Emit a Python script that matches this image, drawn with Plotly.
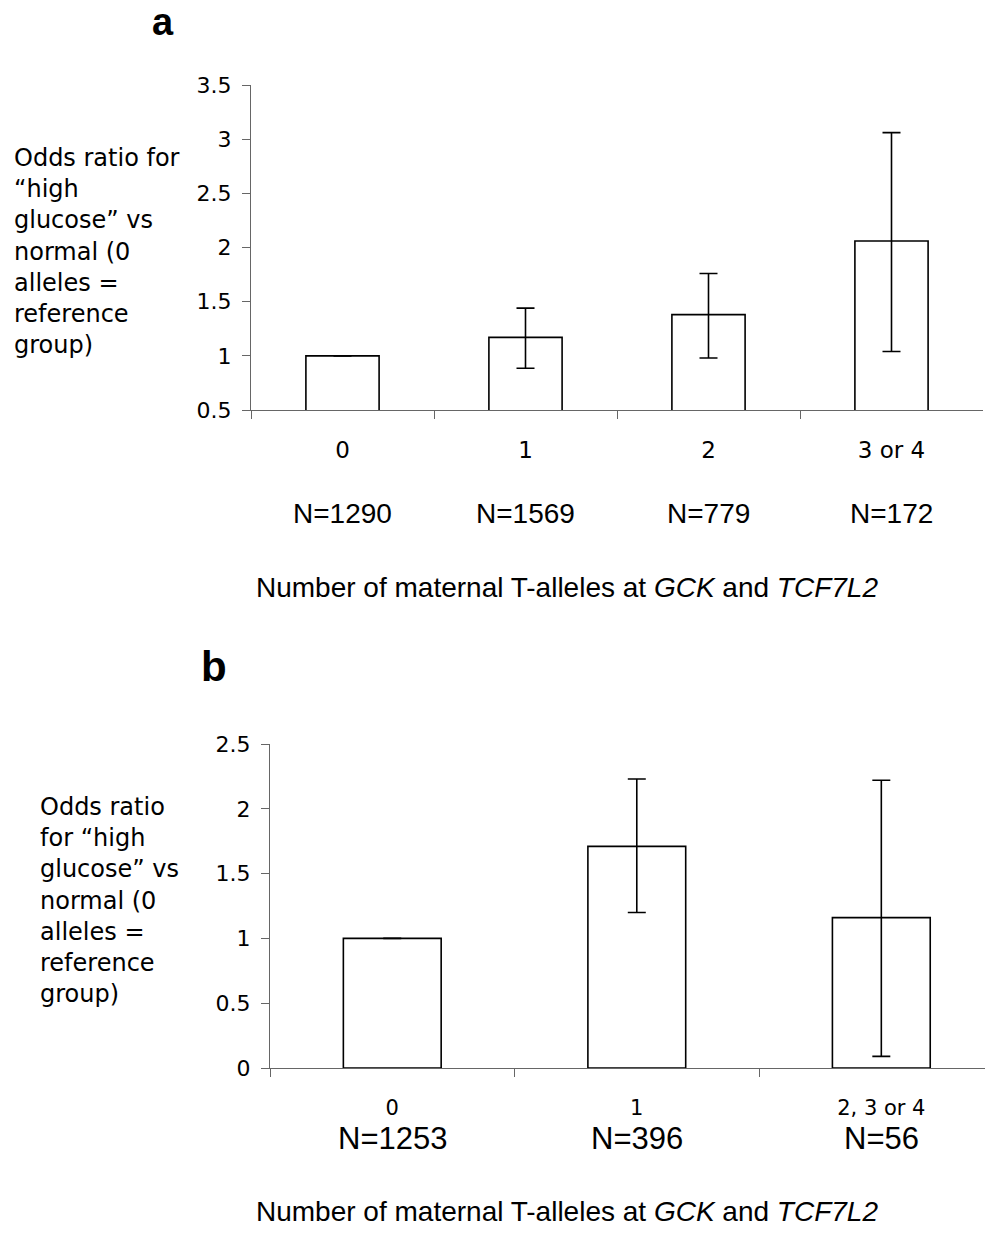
import plotly.graph_objects as go

W, H = 985, 1249

# Panel a data
cats_a = ["0", "1", "2", "3 or 4"]
or_a = [1.0, 1.17, 1.38, 2.06]
lo_a = [1.0, 0.885, 0.98, 1.04]
hi_a = [1.0, 1.44, 1.76, 3.06]
n_a = ["N=1290", "N=1569", "N=779", "N=172"]

# Panel b data
cats_b = ["0", "1", "2, 3 or 4"]
or_b = [1.0, 1.71, 1.16]
lo_b = [1.0, 1.20, 0.09]
hi_b = [1.0, 2.23, 2.22]
n_b = ["N=1253", "N=396", "N=56"]

ytitle_a = "Odds ratio for<br>“high<br>glucose” vs<br>normal (0<br>alleles =<br>reference<br>group)"
ytitle_b = "Odds ratio<br>for “high<br>glucose” vs<br>normal (0<br>alleles =<br>reference<br>group)"
xtitle = "Number of maternal T-alleles at <i>GCK</i> and <i>TCF7L2</i>"

TICKFONT = "DejaVu Sans"
TEXTFONT = "Liberation Sans, Arial, sans-serif"
AXC = "#666666"


def px(x):
    return x / W


def py(y):
    return 1 - y / H


def bar(cats, vals, lo, hi, xa, ya):
    return go.Bar(
        x=cats, y=vals, xaxis=xa, yaxis=ya, width=0.4,
        marker=dict(color="white", line=dict(color="black", width=1.6)),
        error_y=dict(type="data", symmetric=False,
                     array=[h - v for h, v in zip(hi, vals)],
                     arrayminus=[v - l for v, l in zip(vals, lo)],
                     color="black", thickness=1.6, width=9),
        showlegend=False, hoverinfo="skip",
    )


fig = go.Figure()
fig.add_trace(bar(cats_a, or_a, lo_a, hi_a, "x", "y"))
fig.add_trace(bar(cats_b, or_b, lo_b, hi_b, "x2", "y2"))

xcommon = dict(type="category", tickson="boundaries", ticks="outside", ticklen=8,
               tickcolor=AXC, showline=True, linecolor=AXC, linewidth=1,
               showgrid=False, zeroline=False, fixedrange=True, automargin=False)
ycommon = dict(ticks="outside", ticklen=8, tickcolor=AXC, showline=True,
               linecolor=AXC, linewidth=1, showgrid=False, zeroline=False,
               dtick=0.5, fixedrange=True, automargin=False,
               tickfont=dict(family=TICKFONT, size=22, color="black"),
               ticklabelstandoff=6)

fig.update_layout(
    width=W, height=H, autosize=False,
    margin=dict(l=0, r=0, t=0, b=0, autoexpand=False),
    paper_bgcolor="white", plot_bgcolor="white",
    bargap=0.6,
    xaxis=dict(xcommon, domain=[px(251), px(983)], anchor="y", range=[-0.5, 3.5],
               tickfont=dict(family=TICKFONT, size=23, color="black"),
               ticklabelstandoff=19),
    yaxis=dict(ycommon, domain=[py(410), py(85)], anchor="x", range=[0.5, 3.5]),
    xaxis2=dict(xcommon, domain=[px(270), 1.0], anchor="y2", range=[-0.5, 2.424],
                tickfont=dict(family=TICKFONT, size=21, color="black"),
                ticklabelstandoff=21),
    yaxis2=dict(ycommon, domain=[py(1068), py(744)], anchor="x2", range=[0, 2.5]),
)

ann = []
ann.append(dict(text="<b>a</b>", x=px(163), y=py(0), xref="paper", yref="paper",
                showarrow=False, xanchor="center", yanchor="top", borderpad=0,
                font=dict(family=TEXTFONT, size=38, color="black")))
ann.append(dict(text="<b>b</b>", x=px(214), y=py(666), xref="paper", yref="paper",
                showarrow=False, xanchor="center", yanchor="middle",
                font=dict(family=TEXTFONT, size=42, color="black")))
ann.append(dict(text=ytitle_a, x=px(12), y=py(251), xref="paper", yref="paper",
                showarrow=False, xanchor="left", yanchor="middle", align="left",
                font=dict(family=TICKFONT, size=24, color="black")))
ann.append(dict(text=ytitle_b, x=px(38), y=py(900), xref="paper", yref="paper",
                showarrow=False, xanchor="left", yanchor="middle", align="left",
                font=dict(family=TICKFONT, size=24, color="black")))
for c, t in zip(cats_a, n_a):
    ann.append(dict(text=t, x=c, xref="x", y=py(514), yref="paper", showarrow=False,
                    xanchor="center", yanchor="middle",
                    font=dict(family=TEXTFONT, size=28, color="black")))
for c, t in zip(cats_b, n_b):
    ann.append(dict(text=t, x=c, xref="x2", y=py(1138), yref="paper", showarrow=False,
                    xanchor="center", yanchor="middle",
                    font=dict(family=TEXTFONT, size=31, color="black")))
ann.append(dict(text=xtitle, x=px(567), y=py(587), xref="paper", yref="paper",
                showarrow=False, xanchor="center", yanchor="middle",
                font=dict(family=TEXTFONT, size=28, color="black")))
ann.append(dict(text=xtitle, x=px(567), y=py(1211), xref="paper", yref="paper",
                showarrow=False, xanchor="center", yanchor="middle",
                font=dict(family=TEXTFONT, size=28, color="black")))
fig.update_layout(annotations=ann)

fig.write_html("out.html", config={"displayModeBar": False},
               post_script="document.body.style.margin='0';document.body.style.overflow='hidden';")
